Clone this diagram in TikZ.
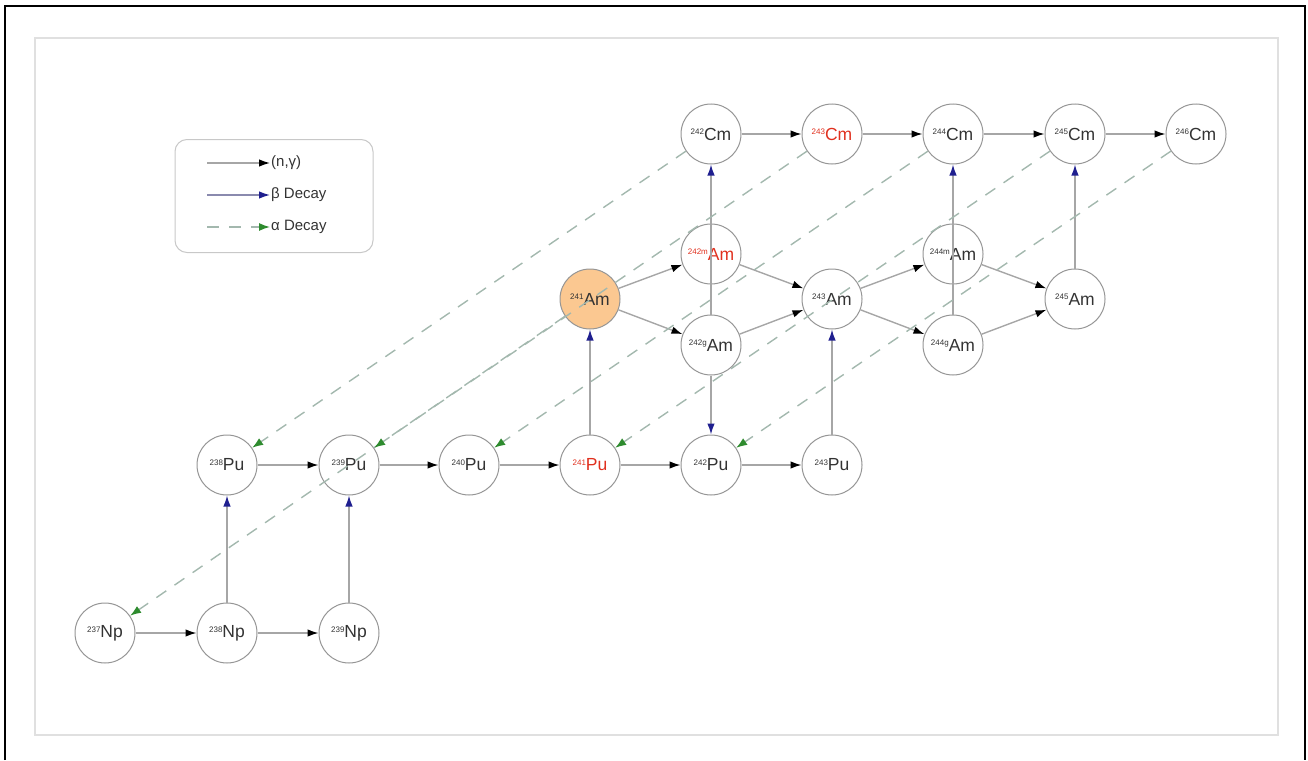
\documentclass[tikz,border=0pt]{standalone}
\usepackage{fontspec}
\setmainfont{Liberation Sans}
\usepackage{tikz}
\usetikzlibrary{arrows.meta,positioning}
\definecolor{nodegray}{HTML}{959595}
\definecolor{linegray}{HTML}{A6A6A6}
\definecolor{alphagray}{HTML}{A3B8AE}
\definecolor{betanavy}{HTML}{1F1F8F}
\definecolor{betaline}{HTML}{8A8AAE}
\definecolor{alphagreen}{HTML}{2E8B2E}
\definecolor{nuclidered}{HTML}{E0301E}
\definecolor{amfill}{HTML}{FBC891}
\definecolor{framegray}{HTML}{E0E0E0}
\definecolor{legendgray}{HTML}{C8C8C8}
\definecolor{bodytext}{HTML}{333333}
\newcommand{\nuc}[2]{\raisebox{0.55ex}{\fontsize{8}{8}\selectfont #1}#2}

\begin{document}
\begin{tikzpicture}[x=1pt,y=-1pt,
    nuclide/.style={circle, draw=nodegray, line width=1pt, minimum size=60pt, inner sep=0pt, font=\fontsize{17.5}{17.5}\selectfont, text=bodytext},
    hot/.style={text=nuclidered},
    capture/.style={draw=linegray, line width=1.4pt, -{Latex[length=11pt,width=7.5pt,color=black]}},
    betadecay/.style={draw=linegray, line width=1.4pt, -{Latex[length=11pt,width=7.5pt,color=betanavy]}},
    alphadecay/.style={draw=alphagray, line width=1.4pt, dash pattern=on 12pt off 10pt, -{Latex[length=11pt,width=8pt,color=alphagreen]}},
    legendtext/.style={anchor=west, inner sep=1pt, font=\fontsize{15}{15}\selectfont, text=bodytext}
]
    \useasboundingbox (0,0) rectangle (1308,760);
    % frames
    \draw[line width=2pt] (5,760) -- (5,6) -- (1305,6) -- (1305,760);
    \draw[framegray, line width=2.5pt] (35,38) rectangle (1278,735);

    % legend
    \node[draw=legendgray, line width=1pt, rounded corners=12pt, minimum width=198pt, minimum height=113pt] (legend) at (274,196) {};
    \coordinate (lgcapture) at (207,163);
    \coordinate (lgbeta) at (207,195);
    \coordinate (lgalpha) at (207,227);
    \node[legendtext] (txtcapture) at (270,163) {(n,γ)};
    \node[legendtext] (txtbeta) at (270,195) {β Decay};
    \node[legendtext] (txtalpha) at (270,227) {α Decay};
    \draw[capture] (lgcapture) -- (txtcapture.west);
    \draw[betadecay, draw=betaline] (lgbeta) -- (txtbeta.west);
    \draw[alphadecay] (lgalpha) -- (txtalpha.west);

    % nuclides
    \node[nuclide] (np237) at (105,633) {\nuc{237}{Np}};
    \node[nuclide] (np238) at (227,633) {\nuc{238}{Np}};
    \node[nuclide] (np239) at (349,633) {\nuc{239}{Np}};
    \node[nuclide] (pu238) at (227,465) {\nuc{238}{Pu}};
    \node[nuclide] (pu239) at (349,465) {\nuc{239}{Pu}};
    \node[nuclide] (pu240) at (469,465) {\nuc{240}{Pu}};
    \node[nuclide, hot] (pu241) at (590,465) {\nuc{241}{Pu}};
    \node[nuclide] (pu242) at (711,465) {\nuc{242}{Pu}};
    \node[nuclide] (pu243) at (832,465) {\nuc{243}{Pu}};
    \node[nuclide, fill=amfill] (am241) at (590,299) {\nuc{241}{Am}};
    \node[nuclide, hot] (am242m) at (711,254) {\nuc{242m}{Am}};
    \node[nuclide] (am242g) at (711,345) {\nuc{242g}{Am}};
    \node[nuclide] (am243) at (832,299) {\nuc{243}{Am}};
    \node[nuclide] (am244m) at (953,254) {\nuc{244m}{Am}};
    \node[nuclide] (am244g) at (953,345) {\nuc{244g}{Am}};
    \node[nuclide] (am245) at (1075,299) {\nuc{245}{Am}};
    \node[nuclide] (cm242) at (711,134) {\nuc{242}{Cm}};
    \node[nuclide, hot] (cm243) at (832,134) {\nuc{243}{Cm}};
    \node[nuclide] (cm244) at (953,134) {\nuc{244}{Cm}};
    \node[nuclide] (cm245) at (1075,134) {\nuc{245}{Cm}};
    \node[nuclide] (cm246) at (1196,134) {\nuc{246}{Cm}};

    % (n,gamma)
    \draw[capture] (np237) -- (np238);
    \draw[capture] (np238) -- (np239);
    \draw[capture] (pu238) -- (pu239);
    \draw[capture] (pu239) -- (pu240);
    \draw[capture] (pu240) -- (pu241);
    \draw[capture] (pu241) -- (pu242);
    \draw[capture] (pu242) -- (pu243);
    \draw[capture] (am241) -- (am242m);
    \draw[capture] (am241) -- (am242g);
    \draw[capture] (am242m) -- (am243);
    \draw[capture] (am242g) -- (am243);
    \draw[capture] (am243) -- (am244m);
    \draw[capture] (am243) -- (am244g);
    \draw[capture] (am244m) -- (am245);
    \draw[capture] (am244g) -- (am245);
    \draw[capture] (cm242) -- (cm243);
    \draw[capture] (cm243) -- (cm244);
    \draw[capture] (cm244) -- (cm245);
    \draw[capture] (cm245) -- (cm246);

    % beta decay
    \draw[betadecay] (np238) -- (pu238);
    \draw[betadecay] (np239) -- (pu239);
    \draw[betadecay] (pu241) -- (am241);
    \draw[betadecay] (pu243) -- (am243);
    \draw[betadecay] (am242g) -- (cm242);
    \draw[betadecay] (am242g) -- (pu242);
    \draw[betadecay] (am244g) -- (cm244);
    \draw[betadecay] (am245) -- (cm245);

    % alpha decay
    \draw[alphadecay] (am241) -- (np237);
    \draw[alphadecay] (cm242) -- (pu238);
    \draw[alphadecay] (cm243) -- (pu239);
    \draw[alphadecay] (cm244) -- (pu240);
    \draw[alphadecay] (cm245) -- (pu241);
    \draw[alphadecay] (cm246) -- (pu242);
\end{tikzpicture}
\end{document}
